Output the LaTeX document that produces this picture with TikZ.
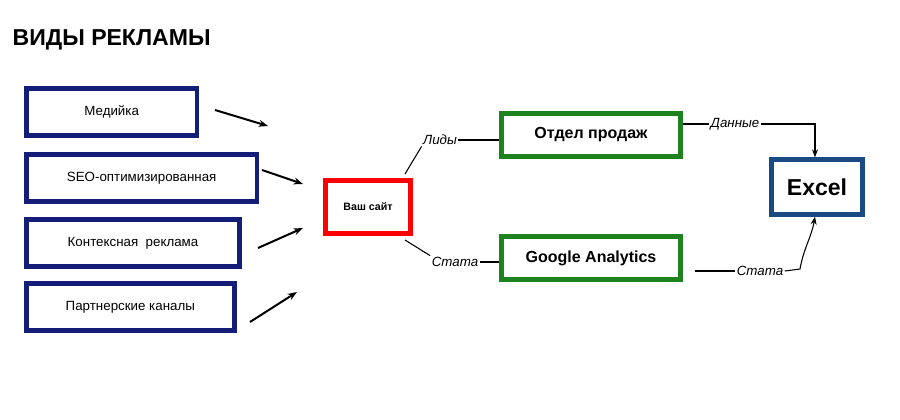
\documentclass[tikz,border=0pt]{standalone}
\usepackage{fontspec}
\setmainfont{Liberation Sans}
\usetikzlibrary{arrows.meta}
\definecolor{navy}{RGB}{20,30,120}
\definecolor{gr}{RGB}{30,130,30}
\definecolor{xb}{RGB}{25,75,130}
\begin{document}
\begin{tikzpicture}[x=0.75pt,y=-0.75pt,
  src/.style={draw=navy,line width=3.5pt,minimum height=35pt,anchor=west,font=\normalsize,text=black},
  mid/.style={draw=gr,line width=3.5pt,minimum width=134pt,minimum height=32pt,font=\bfseries\large},
  arr/.style={-{Stealth[length=7pt]},line width=1.5pt},
  ln/.style={line width=0.8pt},
  lab/.style={font=\normalsize\itshape,fill=white,inner sep=1pt}]
\useasboundingbox (0,0) rectangle (900,420);
\node[anchor=west,font=\LARGE\bfseries] (title) at (8,40) {ВИДЫ РЕКЛАМЫ};
\node[src,minimum width=128pt] (m) at (24,112) {Медийка};
\node[src,minimum width=173pt] (s) at (24,178) {SEO-оптимизированная};
\node[src,minimum width=160pt] (k) at (24,243) {Контексная\ \ реклама};
\node[src,minimum width=156pt] (p) at (24,307) {Партнерские каналы};
\node[draw=red,line width=3.5pt,minimum width=64pt,minimum height=40pt,font=\footnotesize\bfseries] (site) at (368,207) {Ваш сайт};
\node[mid] (o) at (591,135) {Отдел продаж};
\node[mid] (g) at (591,258) {Google Analytics};
\node[draw=xb,line width=3.5pt,minimum width=68pt,minimum height=41pt,font=\LARGE\bfseries] (ex) at (817,187) {Excel};
\coordinate (a1) at (215,110); \coordinate (b1) at (268,126);
\coordinate (a2) at (262,170); \coordinate (b2) at (303,184);
\coordinate (a3) at (258,248); \coordinate (b3) at (303,228);
\coordinate (a4) at (250,322); \coordinate (b4) at (297,292);
\draw[arr] (a1) -- (b1);
\draw[arr] (a2) -- (b2);
\draw[arr] (a3) -- (b3);
\draw[arr] (a4) -- (b4);
\node[lab] (l1) at (440,140) {Лиды};
\node[lab] (l2) at (455,262) {Стата};
\node[lab] (l3) at (735,124) {Данные};
\node[lab] (l4) at (760,271) {Стата};
\draw[ln] (site.north east) ++(-8,-4) -- (l1.south west);
\draw[ln] (l1.east) -- (o.west |- l1.east);
\draw[ln] (site.south east) ++(-8,4) -- (l2.north west);
\draw[ln] (l2.east) -- (g.west |- l2.east);
\draw[ln] (o.east |- l3) -- (l3.west);
\coordinate (c3) at (815,124);
\draw[ln,-{Stealth[length=6pt]}] (l3.east) -- (c3) -- (ex.north -| c3);
\draw[ln] (g.east |- l4.west) ++(12,0) -- (l4.west);
\draw[ln,-{Stealth[length=6pt]}] (l4.east) -- (800,269) to[out=80,in=-100] (ex.south -| c3);
\end{tikzpicture}
\end{document}
